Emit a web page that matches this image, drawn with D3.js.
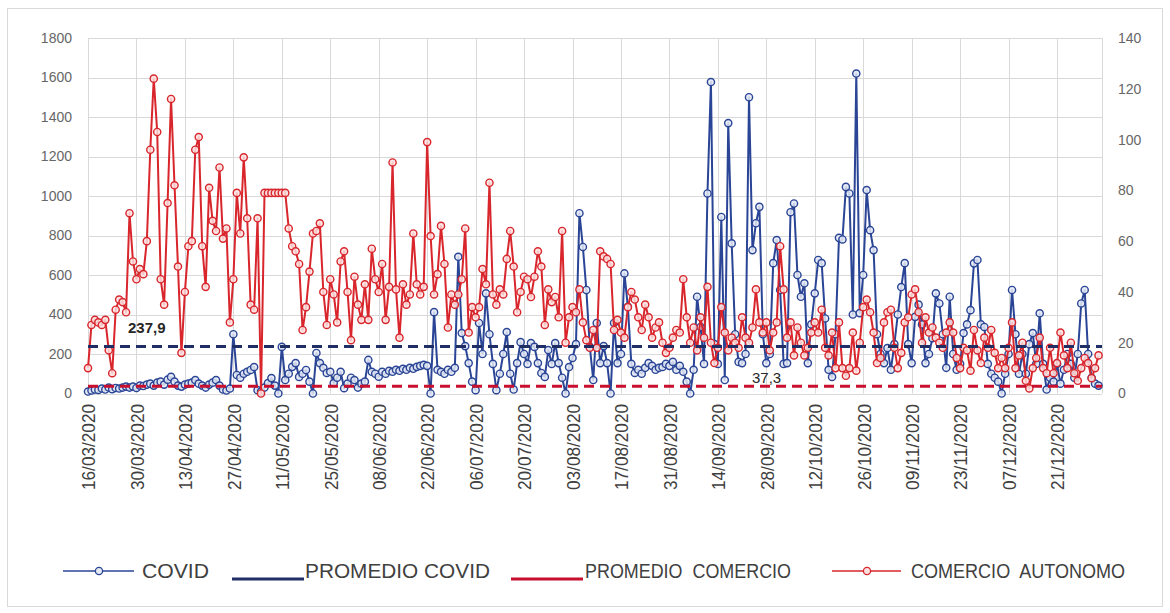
<!DOCTYPE html>
<html><head><meta charset="utf-8">
<script src="https://cdn.jsdelivr.net/npm/d3@7"></script>
<style>
body{margin:0;background:#fff;}
svg{display:block;font-family:"Liberation Sans",Arial,sans-serif;}
</style>
</head><body>
<svg id="chart" width="1170" height="613"></svg>
<script>
// ---------- DATA ----------
const startDate = "16/03/2020";
const endDate = "03/01/2021";
const tickLabels = ["16/03/2020","30/03/2020","13/04/2020","27/04/2020","11/05/2020","25/05/2020","08/06/2020","22/06/2020","06/07/2020","20/07/2020","03/08/2020","17/08/2020","31/08/2020","14/09/2020","28/09/2020","12/10/2020","26/10/2020","09/11/2020","23/11/2020","07/12/2020","21/12/2020"];
const leftTicks = [0,200,400,600,800,1000,1200,1400,1600,1800];
const rightTicks = [0,20,40,60,80,100,120,140];
const seriesNames = ["COVID","PROMEDIO COVID","PROMEDIO  COMERCIO","COMERCIO  AUTONOMO"];
const promedioCovid = 237.9;
const promedioComercio = 37.3;
const promedioLabels = ["237,9","37,3"];

// COVID (left axis), one value per day from 16/03/2020
const covid = [
10,15,20,18,25,20,30,22,28,25,30,35,
30,35,28,40,38,45,50,40,55,60,45,70,84,
60,40,35,45,50,55,68,50,40,30,45,55,68,40,20,15,25,
300,94,80,100,110,119,134,17,10,30,53,78,40,0,236,68,100,135,154,84,100,119,60,0,205,154,130,104,110,53,80,110,27,50,80,68,30,50,60,170,110,100,85,110,100,115,
110,120,115,125,120,130,125,135,140,145,
140,0,412,120,110,100,120,110,130,692,306,240,154,60,17,357,200,507,300,150,17,100,200,311,100,20,
154,260,200,150,255,236,154,104,84,220,150,255,154,80,0,134,180,250,913,742,524,236,68,357,154,240,154,0,357,154,200,608,439,150,104,120,100,130,154,140,120,130,
134,150,140,160,120,140,110,60,0,120,490,337,150,1013,1577,250,150,894,68,1369,760,300,160,154,200,1500,726,862,945,300,154,200,660,777,524,150,154,918,962,600,490,
558,154,350,507,676,660,380,120,84,300,788,780,1046,1013,400,1620,407,600,1030,827,726,300,200,154,230,120,250,400,539,660,250,154,388,450,350,154,200,280,507,456,300,130,
490,200,120,150,306,350,422,659,676,350,337,150,100,80,60,0,100,200,524,300,100,200,100,250,306,150,406,150,20,80,60,150,50,120,200,150,80,200,456,524,200,80,50,40
];

// COMERCIO AUTONOMO (right axis), one value per day from 16/03/2020
const comercio = [
10,27,29,28,27,29,17,8,33,37,36,32,
71,52,45,49,47,60,96,124,103,45,35,75,116,82,50,16,40,58,60,96,101,58,42,81,68,64,89,61,65,28,45,79,63,93,69,35,33,69,
0,79,79,79,79,79,79,79,65,58,56,51,25,34,48,63,64,67,40,27,45,39,28,52,56,40,21,46,35,29,43,29,57,
45,40,51,29,42,91,41,22,43,35,39,63,43,39,42,99,62,39,47,66,51,26,39,35,39,45,65,24,34,30,34,49,43,83,39,35,41,39,53,64,
50,32,40,46,45,38,46,56,50,27,41,36,38,30,64,20,30,34,32,41,28,21,18,25,18,56,54,53,51,25,29,24,22,34,40,37,30,25,35,30,22,26,28,
20,16,18,22,25,24,45,30,20,26,17,30,22,42,20,12,18,34,24,17,22,20,18,30,22,20,26,41,28,24,28,17,24,28,58,41,22,28,15,26,20,
15,18,24,28,24,33,18,15,24,10,28,10,7,10,24,9,20,34,37,32,24,12,14,28,32,33,18,10,16,28,30,39,41,32,20,30,24,26,22,20,18,24,
28,24,14,10,18,17,9,25,17,12,22,18,25,16,10,14,10,18,28,10,15,20,5,2,10,14,22,10,8,18,8,12,24,15,10,20,8,5,10,14,12,6,10,15
];

// ---------- CHART ----------
const parse = d3.timeParse("%d/%m/%Y");
const t0 = parse(startDate), t1 = parse(endDate);
const dates = covid.map((_, i) => d3.timeDay.offset(t0, i));
const tickDates = tickLabels.map(parse);

const L = 88, R = 1102, T = 38, B = 393.5;
const C = {blue:"#2a4596", blueDark:"#1f2f66", red:"#d8262c", redDark:"#c8102e", grid:"#d9d9d9", txt:"#666666", txtDark:"#404040"};

const svg = d3.select("#chart");
svg.append("rect").attr("x",7.5).attr("y",8.5).attr("width",1155).attr("height",598)
  .attr("fill","#fff").attr("stroke","#d9d9d9");

const x = d3.scaleTime().domain([t0, t1]).range([L, R]);
const yL = d3.scaleLinear().domain([0,1800]).range([B, T]);
const yR = d3.scaleLinear().domain([0,140]).range([B, T]);

// gridlines
const grid = svg.append("g");
grid.selectAll("line.h").data(leftTicks).join("line")
  .attr("x1",L).attr("x2",R).attr("y1",d=>Math.round(yL(d))+0.5).attr("y2",d=>Math.round(yL(d))+0.5)
  .attr("stroke",C.grid).attr("stroke-width",1);
grid.selectAll("line.v").data(tickDates.concat([t1])).join("line")
  .attr("x1",d=>Math.round(x(d))+0.5).attr("x2",d=>Math.round(x(d))+0.5).attr("y1",T).attr("y2",B)
  .attr("stroke",C.grid).attr("stroke-width",1);

// axes
const axL = svg.append("g").attr("transform",`translate(${L},0)`)
  .call(d3.axisLeft(yL).tickValues(leftTicks).tickSize(0).tickPadding(16).tickFormat(d3.format("d")));
const axR = svg.append("g").attr("transform",`translate(${R},0)`)
  .call(d3.axisRight(yR).tickValues(rightTicks).tickSize(0).tickPadding(16).tickFormat(d3.format("d")));
[axL, axR].forEach(a => {
  a.select(".domain").remove();
  a.selectAll("text").attr("font-size",14).attr("fill",C.txt).style("font-family","'Liberation Sans',Arial,sans-serif");
});
const axX = svg.append("g").attr("transform",`translate(0,${B})`)
  .call(d3.axisBottom(x).tickValues(tickDates).tickSize(0).tickFormat((d,i)=>tickLabels[i]));
axX.select(".domain").remove();
axX.selectAll("text")
  .attr("transform","rotate(-90)").attr("text-anchor","end")
  .attr("x",-10.5).attr("y",0).attr("dy","0.36em")
  .attr("font-size",19).attr("fill",C.txtDark)
  .attr("textLength",86).attr("lengthAdjust","spacingAndGlyphs")
  .style("font-family","'Liberation Sans',Arial,sans-serif");

// series
const lineL = d3.line().x((d,i)=>x(dates[i])).y(d=>yL(d));
const lineR = d3.line().x((d,i)=>x(dates[i])).y(d=>yR(d));

svg.append("path").datum(covid).attr("d",lineL).attr("fill","none")
  .attr("stroke",C.blue).attr("stroke-width",2).attr("stroke-linejoin","round");
svg.append("g").selectAll("circle").data(covid).join("circle")
  .attr("cx",(d,i)=>x(dates[i])).attr("cy",d=>yL(d)).attr("r",3.6)
  .attr("fill","#e4e9f4").attr("fill-opacity",0.85).attr("stroke",C.blue).attr("stroke-width",1.4);

svg.append("path").datum(comercio).attr("d",lineR).attr("fill","none")
  .attr("stroke",C.red).attr("stroke-width",2).attr("stroke-linejoin","round");
svg.append("g").selectAll("circle").data(comercio).join("circle")
  .attr("cx",(d,i)=>x(dates[i])).attr("cy",d=>yR(d)).attr("r",3.6)
  .attr("fill","#fbe0e0").attr("fill-opacity",0.85).attr("stroke",C.red).attr("stroke-width",1.4);

// averages
svg.append("line").attr("x1",L).attr("x2",R).attr("y1",yL(promedioCovid)).attr("y2",yL(promedioCovid))
  .attr("stroke",C.blueDark).attr("stroke-width",3).attr("stroke-dasharray","10,6");
svg.append("line").attr("x1",L).attr("x2",R).attr("y1",yL(promedioComercio)).attr("y2",yL(promedioComercio))
  .attr("stroke",C.redDark).attr("stroke-width",3).attr("stroke-dasharray","10,6");
svg.append("text").attr("x",128).attr("y",yL(promedioCovid)-19).attr("dy","0.35em")
  .attr("font-size",15).attr("font-weight","bold").attr("fill","#262626").text(promedioLabels[0]);
svg.append("text").attr("x",752).attr("y",yL(promedioComercio)-8).attr("dy","0.35em")
  .attr("font-size",15).attr("fill","#262626").text(promedioLabels[1]);

// legend
const lg = svg.append("g");
const ly = 571;
lg.append("line").attr("x1",63).attr("x2",134).attr("y1",ly).attr("y2",ly).attr("stroke",C.blue).attr("stroke-width",1.5);
lg.append("circle").attr("cx",99).attr("cy",ly).attr("r",3.6).attr("fill","#e4e9f4").attr("stroke",C.blue).attr("stroke-width",1.3);
lg.append("line").attr("x1",232).attr("x2",304).attr("y1",ly+8).attr("y2",ly+8).attr("stroke",C.blueDark).attr("stroke-width",3);
lg.append("line").attr("x1",511).attr("x2",583).attr("y1",ly+8).attr("y2",ly+8).attr("stroke",C.redDark).attr("stroke-width",3);
lg.append("line").attr("x1",832).attr("x2",901).attr("y1",ly).attr("y2",ly).attr("stroke",C.red).attr("stroke-width",1.5);
lg.append("circle").attr("cx",867).attr("cy",ly).attr("r",3.6).attr("fill","#fbe0e0").attr("stroke",C.red).attr("stroke-width",1.3);
const legText = [{x:142,w:67},{x:305,w:185},{x:585,w:206},{x:911,w:214}];
lg.selectAll("text").data(seriesNames).join("text")
  .attr("x",(d,i)=>legText[i].x).attr("y",ly).attr("dy","0.36em")
  .attr("font-size",20).attr("fill",C.txtDark).style("white-space","pre")
  .attr("textLength",(d,i)=>legText[i].w).attr("lengthAdjust","spacingAndGlyphs")
  .text(d=>d);
</script>
</body></html>
